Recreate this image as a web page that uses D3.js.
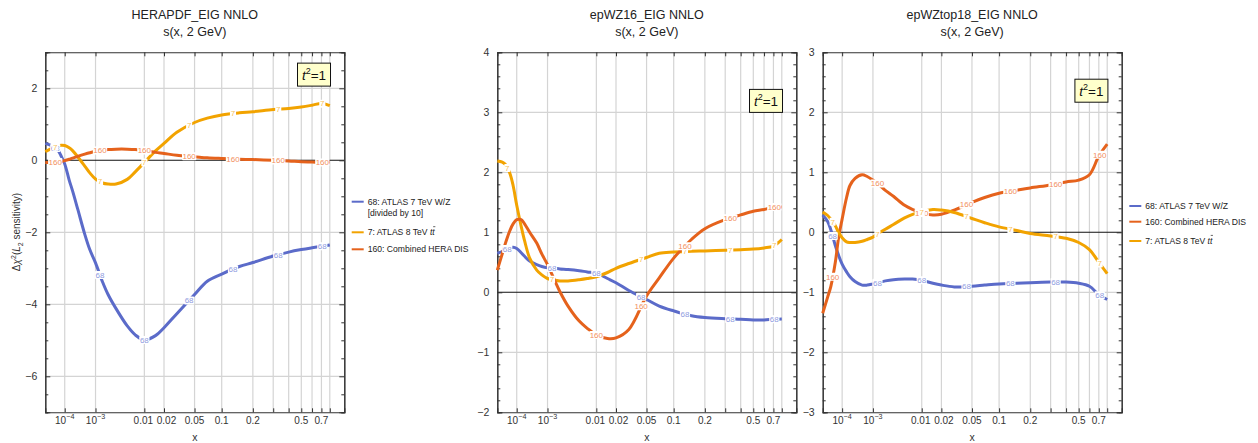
<!DOCTYPE html>
<html><head><meta charset="utf-8">
<script src="https://cdn.jsdelivr.net/npm/d3@7"></script>
<style>
body{margin:0;background:#fff}
svg{display:block}
text{font-family:"Liberation Sans",Arial,Helvetica,sans-serif}
</style>
</head><body>
<svg id="c" width="1258" height="443"></svg>
<script>
// ---------------- data ----------------
const xGrid = [1e-5,2e-5,3e-5,5e-5,7e-5,1e-4,1.5e-4,2e-4,3e-4,5e-4,7e-4,1e-3,1.5e-3,2e-3,3e-3,5e-3,7e-3,
  0.01,0.015,0.02,0.03,0.05,0.07,0.1,0.15,0.2,0.3,0.4,0.5,0.6,0.7,0.8];

// HERAPDF_EIG NNLO
const hera68  = [0.47,0.42,0.38,0.28,0.12,-0.10,-0.55,-0.85,-1.35,-2.05,-2.48,-2.85,-3.38,-3.72,-4.12,-4.60,-4.85,
  -4.99,-4.87,-4.65,-4.26,-3.73,-3.36,-3.16,-2.95,-2.84,-2.66,-2.55,-2.48,-2.43,-2.39,-2.35];
const hera7   = [0.24,0.31,0.36,0.40,0.42,0.41,0.35,0.27,0.10,-0.16,-0.35,-0.52,-0.63,-0.66,-0.66,-0.53,-0.32,
  -0.06,0.26,0.47,0.78,1.05,1.17,1.26,1.32,1.35,1.41,1.44,1.48,1.53,1.58,1.52];
const hera160 = [-0.06,-0.06,-0.05,-0.04,-0.03,-0.01,0.03,0.06,0.11,0.17,0.21,0.25,0.28,0.30,0.31,0.31,0.30,
  0.27,0.22,0.19,0.14,0.10,0.07,0.05,0.03,0.02,0.00,-0.02,-0.04,-0.05,-0.06,-0.05];

// epWZ16_EIG NNLO
const wz68  = [0.65,0.68,0.71,0.74,0.75,0.73,0.66,0.60,0.52,0.46,0.43,0.41,0.40,0.39,0.38,0.36,0.34,
  0.32,0.23,0.16,0.03,-0.12,-0.23,-0.31,-0.39,-0.42,-0.44,-0.45,-0.46,-0.46,-0.45,-0.445];
const wz7   = [2.19,2.17,2.13,1.98,1.78,1.45,1.10,0.86,0.57,0.37,0.29,0.23,0.20,0.19,0.19,0.21,0.23,
  0.26,0.33,0.40,0.48,0.58,0.65,0.67,0.685,0.69,0.70,0.71,0.72,0.74,0.77,0.88];
const wz160 = [0.37,0.64,0.82,1.03,1.14,1.21,1.21,1.14,1.00,0.82,0.64,0.46,0.20,0.01,-0.23,-0.48,-0.60,
  -0.71,-0.77,-0.76,-0.62,-0.06,0.24,0.57,0.88,1.06,1.21,1.29,1.35,1.38,1.42,1.42];

// epWZtop18_EIG NNLO
const top68  = [0.29,0.18,0.04,-0.22,-0.38,-0.53,-0.66,-0.74,-0.82,-0.88,-0.88,-0.86,-0.83,-0.81,-0.79,-0.78,-0.78,
  -0.80,-0.85,-0.88,-0.91,-0.90,-0.88,-0.86,-0.85,-0.84,-0.83,-0.83,-0.85,-0.90,-1.04,-1.12];
const top160 = [-1.35,-1.08,-0.90,-0.50,-0.10,0.22,0.58,0.78,0.90,0.96,0.93,0.87,0.78,0.70,0.60,0.45,0.38,
  0.32,0.29,0.30,0.37,0.50,0.58,0.65,0.70,0.74,0.79,0.84,0.87,0.96,1.27,1.47];
const top7   = [0.34,0.28,0.22,0.11,0.00,-0.09,-0.16,-0.17,-0.17,-0.15,-0.12,-0.08,0.00,0.05,0.13,0.24,0.30,
  0.34,0.38,0.37,0.33,0.23,0.16,0.09,0.03,-0.02,-0.06,-0.10,-0.17,-0.29,-0.50,-0.69];

const titles = ["HERAPDF_EIG NNLO","epWZ16_EIG NNLO","epWZtop18_EIG NNLO"];
const subtitle = "s(x, 2 GeV)";
const xGridLines = [1e-4,1e-3,0.01,0.02,0.05,0.1,0.2,0.3,0.4,0.5,0.6,0.7,0.8];
const xTickValues = [1e-4,1e-3,0.01,0.02,0.05,0.1,0.2,0.5,0.7];
const xTickBase = ["10","10","0.01","0.02","0.05","0.1","0.2","0.5","0.7"];
const xTickExp  = ["−4","−3","","","","","","",""];
const curveLabelX = [3.7e-5,1.3e-3,0.01,0.043,0.13,0.33,0.71];
// curve-label slots (index into curveLabelX) that the reference leaves out
const wzSkip160 = [0,1];
const wzSkip7 = [2];
const yTicks1 = [-6,-4,-2,0,2];
const yTicks2 = [-2,-1,0,1,2,3,4];
const yTicks3 = [-3,-2,-1,0,1,2,3];
const legendTxt68 = "68: ATLAS 7 TeV W/Z";
const legendTxt7 = "7: ATLAS 8 TeV ";
const legendTxt160 = "160: Combined HERA DIS";

// ---------------- styles ----------------
const BLUE="#5b6bc9", ORANGE="#f2a300", RED="#e5621c";
const LBLUE="#909ce0", LORANGE="#f6c15a", LRED="#f28f60";
const TOP=52.3, BOT=412.3, PW=299;

const s68  = {name:"68", color:BLUE, lc:LBLUE};
const s7   = {name:"7", color:ORANGE, lc:LORANGE};
const s160 = {name:"160", color:RED, lc:LRED};

const panels = [
  {left:45.3, title:titles[0], yDom:[-7,3], yMajor:yTicks1, minor:0.5, boxY:2.38,
   series:[[s68,hera68,[]],[s7,hera7,[]],[s160,hera160,[]]],
   legend:{x:351.7, rows:[[s68,201.7,legendTxt68],[null,213.3,"[divided by 10]"],[s7,232.3,legendTxt7],[s160,249.3,legendTxt160]]}},
  {left:497.3, title:titles[1], yDom:[-2,4], yMajor:yTicks2, minor:0.2, boxY:3.19,
   series:[[s68,wz68,[]],[s7,wz7,wzSkip7],[s160,wz160,wzSkip160]], legend:null},
  {left:822.7, title:titles[2], yDom:[-3,3], yMajor:yTicks3, minor:0.2, boxY:2.36,
   series:[[s68,top68,[]],[s160,top160,[]],[s7,top7,[]]],
   legend:{x:1129.3, rows:[[s68,206,legendTxt68],[s160,221.7,legendTxt160],[s7,241,legendTxt7]]}}
];

const svg = d3.select("#c");
const fmt = v => (v<0?"−":"")+Math.abs(v);

function interp(xs, ys, x){
  const t = v => Math.pow(v,0.2);
  const tx = t(x);
  for(let i=0;i<xs.length-1;i++){
    const a=t(xs[i]), b=t(xs[i+1]);
    if(tx>=a && tx<=b){ const f=(tx-a)/(b-a); return ys[i]+(ys[i+1]-ys[i])*f; }
  }
  return ys[ys.length-1];
}

panels.forEach((P,pi)=>{
  const x = d3.scalePow().exponent(0.2).domain([1e-5,1]).range([P.left,P.left+PW]);
  const y = d3.scaleLinear().domain(P.yDom).range([BOT,TOP]);
  const g = svg.append("g");
  const cx = P.left+PW/2;

  // titles
  g.append("text").attr("x",cx).attr("y",19).attr("text-anchor","middle").attr("font-size",12.5).attr("fill","#222").text(P.title);
  g.append("text").attr("x",cx).attr("y",36).attr("text-anchor","middle").attr("font-size",12.5).attr("fill","#222").text(subtitle);

  // grid
  g.selectAll(".vg").data(xGridLines).enter().append("line")
    .attr("x1",d=>x(d)).attr("x2",d=>x(d)).attr("y1",TOP).attr("y2",BOT)
    .attr("stroke","#d4d4d4").attr("stroke-width",1.2);
  g.selectAll(".hg").data(P.yMajor.filter(v=>v!==0 && v>P.yDom[0] && v<P.yDom[1])).enter().append("line")
    .attr("x1",P.left).attr("x2",P.left+PW).attr("y1",d=>y(d)).attr("y2",d=>y(d))
    .attr("stroke","#d4d4d4").attr("stroke-width",1.2);
  g.append("line").attr("x1",P.left).attr("x2",P.left+PW).attr("y1",y(0)).attr("y2",y(0))
    .attr("stroke","#111").attr("stroke-width",1.1);

  // axes via d3
  const minorVals = d3.range(P.yDom[0], P.yDom[1]+1e-9, P.minor).map(v=>+v.toFixed(4)).filter(v=>!P.yMajor.includes(v));
  const axL = d3.axisLeft(y).tickValues(P.yMajor).tickSize(-5).tickPadding(8).tickFormat(fmt);
  const gl = g.append("g").attr("transform",`translate(${P.left},0)`).call(axL);
  g.append("g").attr("transform",`translate(${P.left},0)`).call(d3.axisLeft(y).tickValues(minorVals).tickSize(-3).tickFormat(""));
  g.append("g").attr("transform",`translate(${P.left+PW},0)`).call(d3.axisRight(y).tickValues(P.yMajor).tickSize(-5).tickFormat(""));
  g.append("g").attr("transform",`translate(${P.left+PW},0)`).call(d3.axisRight(y).tickValues(minorVals).tickSize(-3).tickFormat(""));
  g.append("g").attr("transform",`translate(0,${TOP})`).call(d3.axisTop(x).tickValues(xGridLines).tickSize(-4).tickFormat(""));
  g.append("g").attr("transform",`translate(0,${BOT})`).call(d3.axisBottom(x).tickValues(xGridLines).tickSize(-4).tickFormat(""));
  g.selectAll(".domain").attr("stroke","#333").attr("stroke-width",1.1);
  g.selectAll(".tick line").attr("stroke","#333");
  gl.selectAll("text").attr("font-size",10.5).attr("fill","#333").attr("font-family","Liberation Sans, Arial, sans-serif");

  // x tick labels
  xTickValues.forEach((v,i)=>{
    const t = g.append("text").attr("x",x(v)).attr("y",424).attr("text-anchor","middle")
      .attr("font-size",10).attr("fill","#333");
    if(v===0.02) t.attr("dx",2.5);
    if(v===0.01) t.attr("dx",-1);
    t.append("tspan").text(xTickBase[i]);
    if(xTickExp[i]) t.append("tspan").attr("dy",-5).attr("font-size",7.2).text(xTickExp[i]);
  });
  g.append("text").attr("x",cx).attr("y",441).attr("text-anchor","middle").attr("font-size",10.5).attr("fill","#333").text("x");

  // curves
  const line = d3.line().x(d=>x(d[0])).y(d=>y(d[1])).curve(d3.curveCatmullRom.alpha(0.5));
  P.series.forEach(([S,vals])=>{
    const pts = xGrid.map((xv,i)=>[xv,vals[i]]);
    g.append("path").attr("d",line(pts)).attr("fill","none").attr("stroke",S.color)
      .attr("stroke-width",3).attr("stroke-linejoin","round");
  });
  P.series.forEach(([S,vals,skip])=>{
    curveLabelX.forEach((lx,li)=>{
      if(skip.includes(li)) return;
      const yv = interp(xGrid, vals, lx);
      const w = S.name.length*4.1+2;
      g.append("rect").attr("x",x(lx)-w/2).attr("y",y(yv)-4).attr("width",w).attr("height",8)
        .attr("fill","#fff").attr("rx",1);
      g.append("text").attr("x",x(lx)).attr("y",y(yv)+2.8).attr("text-anchor","middle")
        .attr("font-size",8).attr("fill",S.lc).text(S.name);
    });
  });

  // t^2 = 1 box
  const bx = x(0.62), by = y(P.boxY);
  g.append("rect").attr("x",bx-16.5).attr("y",by-11.5).attr("width",33).attr("height",23)
    .attr("fill","#ffffcc").attr("stroke","#111").attr("stroke-width",1);
  const tt = g.append("text").attr("x",bx).attr("y",by+5).attr("text-anchor","middle").attr("font-size",13.5).attr("fill","#111");
  tt.append("tspan").attr("font-style","italic").text("t");
  tt.append("tspan").attr("dy",-6).attr("font-size",9).text("2");
  tt.append("tspan").attr("dy",6).text("=1");

  // legend
  if(P.legend){
    P.legend.rows.forEach(([S,ly,txt])=>{
      if(S) g.append("line").attr("x1",P.legend.x).attr("x2",P.legend.x+12).attr("y1",ly).attr("y2",ly)
        .attr("stroke",S.color).attr("stroke-width",2);
      const tx0 = P.legend.x+16;
      const t = g.append("text").attr("x",tx0).attr("y",ly+3).attr("font-size",8.6).attr("fill","#222").text(txt);
      if(S===s7){
        t.append("tspan").attr("font-style","italic").text("tt");
        const node = t.node();
        const n = node.getNumberOfChars();
        const L = node.getComputedTextLength();
        const cw = node.getSubStringLength(n-1,1);
        g.append("line").attr("x1",tx0+L-cw+0.8).attr("x2",tx0+L+0.6)
          .attr("y1",ly-5.6).attr("y2",ly-5.6).attr("stroke","#222").attr("stroke-width",0.7);
      }
    });
  }
});

// y label
const yl = svg.append("text").attr("transform","translate(20,232) rotate(-90)").attr("text-anchor","middle")
  .attr("font-size",10).attr("fill","#333");
yl.append("tspan").text("Δ");
yl.append("tspan").attr("font-style","italic").text("χ");
yl.append("tspan").attr("dy",-4).attr("font-size",7).text("2");
yl.append("tspan").attr("dy",4).text("(");
yl.append("tspan").attr("font-style","italic").text("L");
yl.append("tspan").attr("dy",2.5).attr("font-size",7).text("2");
yl.append("tspan").attr("dy",-2.5).text(" sensitivity)");
</script>
</body></html>
